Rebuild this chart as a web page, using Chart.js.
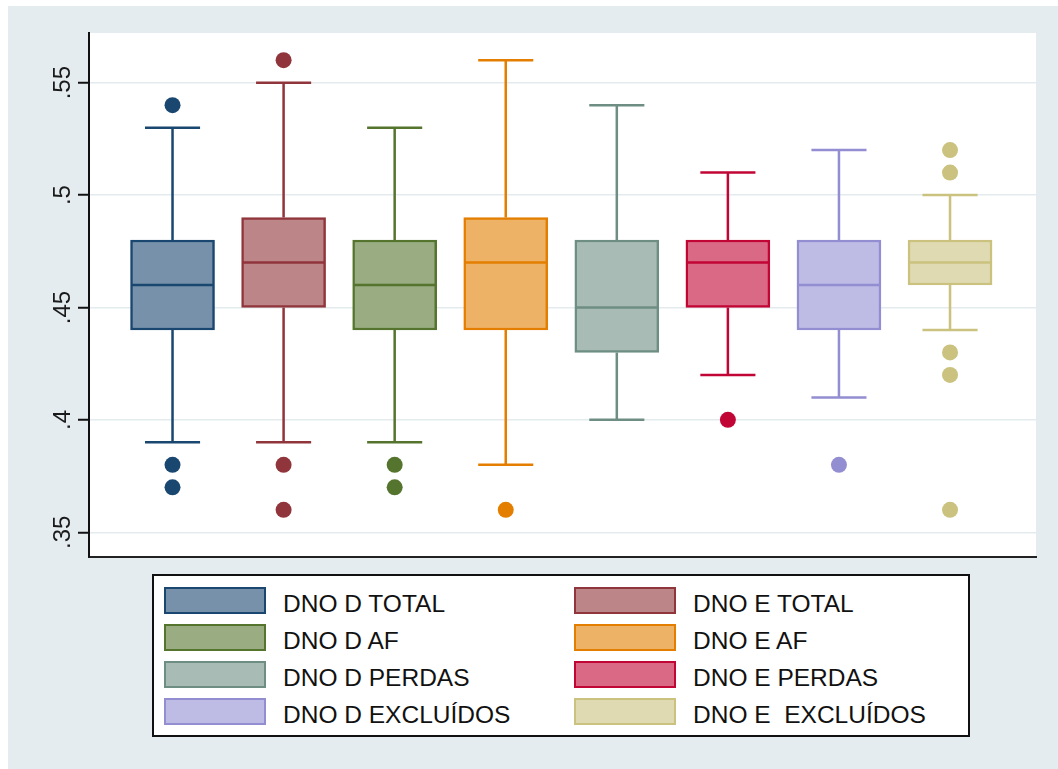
<!DOCTYPE html>
<html>
<head>
<meta charset="utf-8">
<script src="https://cdn.jsdelivr.net/npm/chart.js@4/dist/chart.umd.min.js"></script>
<style>
  body { margin: 0; background: #fff; width: 1058px; height: 769px; position: relative; overflow: hidden; font-family: 'Liberation Sans', Arial, Helvetica, sans-serif; }
  #bg { position: absolute; left: 8px; top: 6px; right: 0; bottom: 0; background: #e4ecef; }
  #wrap { position: absolute; left: 0; top: 0; width: 1058px; height: 769px; }
  #legend { position: absolute; left: 152px; top: 574px; width: 818px; height: 163px; box-sizing: border-box; border: 2px solid #111; background: #fff; }
  .sw { position: absolute; width: 102px; height: 27px; box-sizing: border-box; border: 2px solid; }
  .lab { position: absolute; white-space: pre; font-size: 24.5px; line-height: 27px; color: #111; }
</style>
</head>
<body>
<div id="bg"></div>
<div id="wrap"><canvas id="boxChart"></canvas></div>
<div id="legend"></div>
<script>
/* Distribuição DNO por grupo */
const groups = ['DNO D TOTAL', 'DNO E TOTAL', 'DNO D AF', 'DNO E AF', 'DNO D PERDAS', 'DNO E PERDAS', 'DNO D EXCLUÍDOS', 'DNO E  EXCLUÍDOS'];
const whiskerLow  = [0.39, 0.39, 0.39, 0.38, 0.40, 0.42, 0.41, 0.44];
const q1          = [0.44, 0.45, 0.44, 0.44, 0.43, 0.45, 0.44, 0.46];
const median      = [0.46, 0.47, 0.46, 0.47, 0.45, 0.47, 0.46, 0.47];
const q3          = [0.48, 0.49, 0.48, 0.49, 0.48, 0.48, 0.48, 0.48];
const whiskerHigh = [0.53, 0.55, 0.53, 0.56, 0.54, 0.51, 0.52, 0.50];
const outliers = [
  [0.54, 0.38, 0.37],
  [0.56, 0.38, 0.36],
  [0.38, 0.37],
  [0.36],
  [],
  [0.40],
  [0.38],
  [0.52, 0.51, 0.43, 0.42, 0.36]
];
const yTicks = [0.35, 0.4, 0.45, 0.5, 0.55];
const yTickLabels = ['.35', '.4', '.45', '.5', '.55'];

const lineColors = ['#1a476f', '#90353b', '#55752f', '#e37e00', '#6e8e84', '#c10534', '#938dd2', '#cac27e'];
const fillColors = ['#7691a9', '#bc8689', '#99ac82', '#eeb266', '#a8bbb5', '#da6985', '#bebbe4', '#dfdab2'];

const capHalf = 0.248;
const boxHalf = 0.37;

var datasets = [];

// caixas (q1 - q3)
datasets.push({
  type: 'bar',
  data: groups.map(function (g, i) { return { x: i + 1, y: [q1[i], q3[i]] }; }),
  backgroundColor: fillColors,
  borderColor: lineColors,
  borderWidth: 2.5,
  borderSkipped: false,
  barThickness: 84,
  order: 2
});

// bigodes, mediana e traços
groups.forEach(function (g, i) {
  var x = i + 1;
  datasets.push({
    type: 'line',
    data: [
      { x: x - capHalf, y: whiskerLow[i] }, { x: x + capHalf, y: whiskerLow[i] }, { x: x, y: null },
      { x: x, y: whiskerLow[i] }, { x: x, y: q1[i] }, { x: x, y: null },
      { x: x - boxHalf, y: median[i] }, { x: x + boxHalf, y: median[i] }, { x: x, y: null },
      { x: x, y: q3[i] }, { x: x, y: whiskerHigh[i] }, { x: x, y: null },
      { x: x - capHalf, y: whiskerHigh[i] }, { x: x + capHalf, y: whiskerHigh[i] }
    ],
    borderColor: lineColors[i],
    borderWidth: 2.5,
    pointRadius: 0,
    spanGaps: false,
    fill: false,
    order: 1
  });
  // pontos externos
  datasets.push({
    type: 'line',
    showLine: false,
    data: outliers[i].map(function (v) { return { x: x, y: v }; }),
    pointRadius: 8,
    pointBorderWidth: 0,
    pointBackgroundColor: lineColors[i],
    order: 0
  });
});

const plotArea = {
  id: 'plotArea',
  beforeDraw(chart) {
    const a = chart.chartArea, ctx = chart.ctx;
    ctx.save();
    ctx.fillStyle = '#fff';
    ctx.fillRect(a.left, a.top, a.right - a.left, a.bottom - a.top);
    ctx.restore();
  },
  afterDraw(chart) {
    // rótulos do eixo y na vertical
    const ctx = chart.ctx, y = chart.scales.y;
    ctx.save();
    ctx.fillStyle = '#1a1a1a';
    ctx.font = '24px "Liberation Sans", Arial, sans-serif';
    ctx.textAlign = 'center';
    ctx.textBaseline = 'alphabetic';
    yTicks.forEach(function (v, k) {
      ctx.save();
      ctx.translate(70, y.getPixelForValue(v));
      ctx.rotate(-Math.PI / 2);
      ctx.fillText(yTickLabels[k], 0, 0);
      ctx.restore();
    });
    ctx.restore();
  }
};

var boxChart = new Chart(document.getElementById('boxChart'), {
  type: 'bar',
  data: { datasets: datasets },
  options: {
    responsive: true,
    maintainAspectRatio: false,
    animation: false,
    layout: { padding: { left: 0, top: 33, right: 22, bottom: 212 } },
    scales: {
      x: {
        type: 'linear',
        offset: false,
        min: 0.248,
        max: 8.774,
        ticks: { display: false },
        grid: { display: false },
        border: { display: true, color: '#222', width: 2 },
        afterFit: function (s) { s.height = 0; }
      },
      y: {
        min: 0.339,
        max: 0.5721,
        ticks: { display: false },
        afterBuildTicks: function (s) { s.ticks = yTicks.map(function (v) { return { value: v }; }); },
        afterFit: function (s) { s.width = 89; },
        grid: { color: '#e3ebee', lineWidth: 1.5, tickColor: '#111', tickWidth: 2, tickLength: 11 },
        border: { display: true, color: '#111', width: 2 }
      }
    },
    plugins: {
      legend: { display: false },
      tooltip: { enabled: false }
    }
  },
  plugins: [plotArea]
});

/* Legenda em duas colunas */
var legend = document.getElementById('legend');
groups.forEach(function (g, i) {
  var col = i % 2, row = Math.floor(i / 2);
  var left = col === 0 ? 10 : 420;
  var top = 11 + row * 37;
  var sw = document.createElement('div');
  sw.className = 'sw';
  sw.style.left = left + 'px';
  sw.style.top = top + 'px';
  sw.style.background = fillColors[i];
  sw.style.borderColor = lineColors[i];
  legend.appendChild(sw);
  var lab = document.createElement('div');
  lab.className = 'lab';
  lab.style.left = (left + 119) + 'px';
  lab.style.top = (top + 3) + 'px';
  lab.textContent = g;
  legend.appendChild(lab);
});
</script>
</body>
</html>
